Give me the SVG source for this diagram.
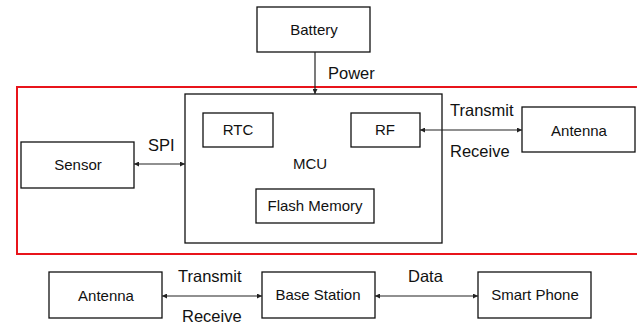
<svg xmlns="http://www.w3.org/2000/svg" width="637" height="324" viewBox="0 0 637 324">
<defs>
<marker id="ah" viewBox="0 0 8 8" refX="8" refY="4" markerWidth="5" markerHeight="5" orient="auto-start-reverse" markerUnits="userSpaceOnUse">
<path d="M0,0 L8,4 L0,8 z" fill="#222"/>
</marker>
<style>
.box{fill:#fff;stroke:#111;stroke-width:1.3}
.t{font-family:"Liberation Sans",Arial,sans-serif;font-size:15px;fill:#111;text-anchor:middle}
.l{font-family:"Liberation Sans",Arial,sans-serif;font-size:16.5px;fill:#111}
.c{stroke:#222;stroke-width:1.2;fill:none}
</style>
</defs>
<rect width="637" height="324" fill="#fff"/>
<rect id="boundary" x="17" y="87" width="630" height="167" fill="none" stroke="#e8141b" stroke-width="2"/>
<g id="battery"><rect class="box" x="257" y="7" width="113" height="45"/><text class="t" x="314" y="35">Battery</text></g>
<g id="mcu"><rect class="box" x="185" y="94" width="257" height="149"/><text class="t" x="310" y="169">MCU</text></g>
<g id="rtc"><rect class="box" x="203" y="113" width="70" height="34"/><text class="t" x="238" y="135">RTC</text></g>
<g id="rf"><rect class="box" x="351" y="113" width="69" height="34"/><text class="t" x="385" y="135">RF</text></g>
<g id="flash"><rect class="box" x="256" y="189" width="118" height="34"/><text class="t" x="315" y="211">Flash Memory</text></g>
<g id="sensor"><rect class="box" x="21" y="142" width="113" height="46"/><text class="t" x="78" y="170">Sensor</text></g>
<g id="antenna1"><rect class="box" x="522" y="107" width="113" height="45"/><text class="t" x="579" y="136">Antenna</text></g>
<g id="antenna2"><rect class="box" x="49" y="272" width="113" height="46"/><text class="t" x="106" y="301">Antenna</text></g>
<g id="base"><rect class="box" x="262" y="272" width="113" height="46"/><text class="t" x="318" y="300">Base Station</text></g>
<g id="phone"><rect class="box" x="478" y="272" width="113" height="46"/><text class="t" x="535" y="300">Smart Phone</text></g>
<g id="connectors">
<line class="c" x1="315" y1="52" x2="315" y2="94" marker-end="url(#ah)"/>
<line class="c" x1="134" y1="164" x2="185" y2="164" marker-start="url(#ah)" marker-end="url(#ah)"/>
<line class="c" x1="420" y1="130" x2="522" y2="130" marker-start="url(#ah)" marker-end="url(#ah)"/>
<line class="c" x1="162" y1="296" x2="262" y2="296" marker-start="url(#ah)" marker-end="url(#ah)"/>
<line class="c" x1="375" y1="296" x2="478" y2="296" marker-start="url(#ah)" marker-end="url(#ah)"/>
<text class="l" x="328" y="79">Power</text>
<text class="l" x="148" y="151">SPI</text>
<text class="l" x="450" y="116">Transmit</text>
<text class="l" x="450" y="157">Receive</text>
<text class="l" x="178" y="282">Transmit</text>
<text class="l" x="182" y="322">Receive</text>
<text class="l" x="408" y="282">Data</text>
</g>
</svg>
